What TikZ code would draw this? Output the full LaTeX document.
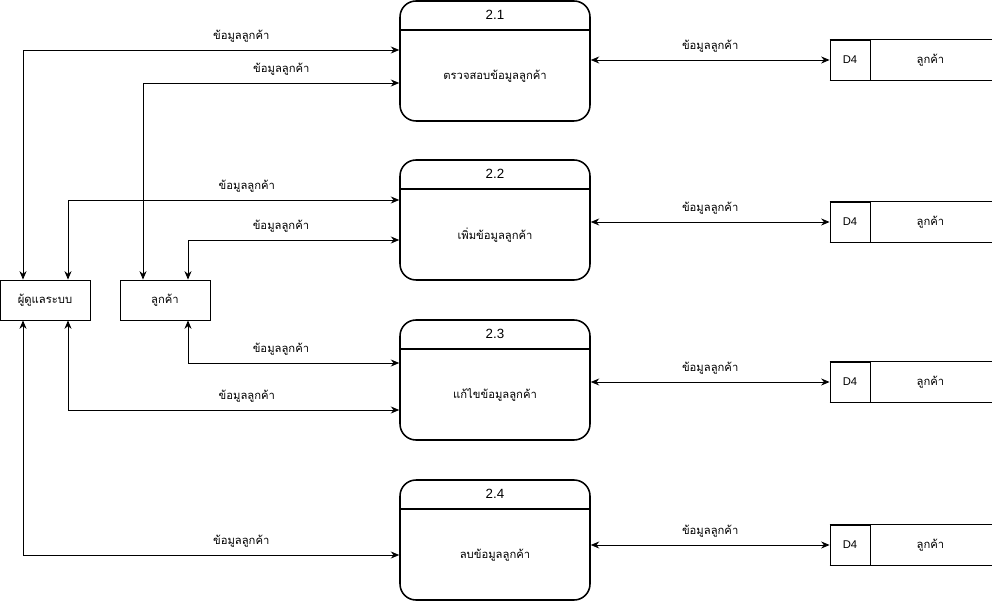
\documentclass[tikz,border=0pt]{standalone}
\usepackage{fontspec}
\setmainfont{Liberation Sans}
\newfontfamily\thaifont[Script=Thai]{Loma}
\usetikzlibrary{arrows.meta,positioning}

\tikzset{
  process/.style={draw, line width=1.1pt, rounded corners=0.4cm, minimum width=4.75cm, minimum height=3cm},
  entity/.style={draw, line width=0.6pt, minimum width=2.25cm, minimum height=1cm},
  storeid/.style={draw, line width=0.6pt, minimum width=1cm, minimum height=1cm, font=\fontsize{8}{10}\selectfont},
  flow/.style={line width=0.6pt, {Stealth[length=6pt,width=5pt]}-{Stealth[length=6pt,width=5pt]}},
  lbl/.style={font=\thaifont\fontsize{8}{10}\selectfont},
  num/.style={font=\fontsize{9.5}{11}\selectfont}
}

\begin{document}
\begin{tikzpicture}
  \useasboundingbox (0,0) rectangle (24.8,-15.05);

  % external entities
  \node[entity, lbl] (admin) at (1.125,-7.5) {ผู้ดูแลระบบ};
  \node[entity, lbl] (cust) at (4.125,-7.5) {ลูกค้า};

  % processes
  \node[process] (p1) at (12.375,-1.525) {};
  \node[process] (p2) at (12.375,-5.5) {};
  \node[process] (p3) at (12.375,-9.5) {};
  \node[process] (p4) at (12.375,-13.5) {};
  \draw[line width=1.1pt] ([yshift=-0.75cm]p1.north west) -- ([yshift=-0.75cm]p1.north east);
  \draw[line width=1.1pt] ([yshift=-0.75cm]p2.north west) -- ([yshift=-0.75cm]p2.north east);
  \draw[line width=1.1pt] ([yshift=-0.75cm]p3.north west) -- ([yshift=-0.75cm]p3.north east);
  \draw[line width=1.1pt] ([yshift=-0.75cm]p4.north west) -- ([yshift=-0.75cm]p4.north east);
  \node[num] (n1) at ([yshift=-0.375cm]p1.north) {2.1};
  \node[num] (n2) at ([yshift=-0.375cm]p2.north) {2.2};
  \node[num] (n3) at ([yshift=-0.375cm]p3.north) {2.3};
  \node[num] (n4) at ([yshift=-0.375cm]p4.north) {2.4};
  \node[lbl] (t1) at ([yshift=-0.375cm]p1.center) {ตรวจสอบข้อมูลลูกค้า};
  \node[lbl] (t2) at ([yshift=-0.375cm]p2.center) {เพิ่มข้อมูลลูกค้า};
  \node[lbl] (t3) at ([yshift=-0.375cm]p3.center) {แก้ไขข้อมูลลูกค้า};
  \node[lbl] (t4) at ([yshift=-0.375cm]p4.center) {ลบข้อมูลลูกค้า};

  % data stores
  \node[storeid] (s1) at (21.25,-1.5) {D4};
  \node[storeid] (s2) at (21.25,-5.55) {D4};
  \node[storeid] (s3) at (21.25,-9.55) {D4};
  \node[storeid] (s4) at (21.25,-13.625) {D4};
  \foreach \s in {s1,s2,s3,s4} {
    \draw[line width=0.6pt] (\s.north west) -- ++(4.05,0);
    \draw[line width=0.6pt] (\s.south west) -- ++(4.05,0);
    \node[lbl] (\s-name) at ([xshift=1.5cm]\s.east) {ลูกค้า};
  }

  % flows between entities and processes
  \draw[flow] ([xshift=-0.55cm]admin.north) |- node[lbl, above=2pt, pos=0.79] {ข้อมูลลูกค้า} ([yshift=0.275cm]p1.west);
  \draw[flow] ([xshift=-0.55cm]cust.north) |- node[lbl, above=2pt, pos=0.77] {ข้อมูลลูกค้า} ([yshift=-0.55cm]p1.west);
  \draw[flow] ([xshift=0.575cm]admin.north) |- node[lbl, above=2pt, pos=0.77] {ข้อมูลลูกค้า} ([yshift=0.5cm]p2.west);
  \draw[flow] ([xshift=0.575cm]cust.north) |- node[lbl, above=2pt, pos=0.72] {ข้อมูลลูกค้า} ([yshift=-0.5cm]p2.west);
  \draw[flow] ([xshift=0.575cm]cust.south) |- node[lbl, above=2pt, pos=0.72] {ข้อมูลลูกค้า} ([yshift=0.425cm]p3.west);
  \draw[flow] ([xshift=0.575cm]admin.south) |- node[lbl, above=2pt, pos=0.77] {ข้อมูลลูกค้า} ([yshift=-0.75cm]p3.west);
  \draw[flow] ([xshift=-0.55cm]admin.south) |- node[lbl, above=2pt, pos=0.79] {ข้อมูลลูกค้า} ([yshift=-0.375cm]p4.west);

  % flows between processes and stores
  \draw[flow] (p1.east |- s1.west) -- node[lbl, above=2pt] {ข้อมูลลูกค้า} (s1.west);
  \draw[flow] (p2.east |- s2.west) -- node[lbl, above=2pt] {ข้อมูลลูกค้า} (s2.west);
  \draw[flow] (p3.east |- s3.west) -- node[lbl, above=2pt] {ข้อมูลลูกค้า} (s3.west);
  \draw[flow] (p4.east |- s4.west) -- node[lbl, above=2pt] {ข้อมูลลูกค้า} (s4.west);
\end{tikzpicture}
\end{document}
